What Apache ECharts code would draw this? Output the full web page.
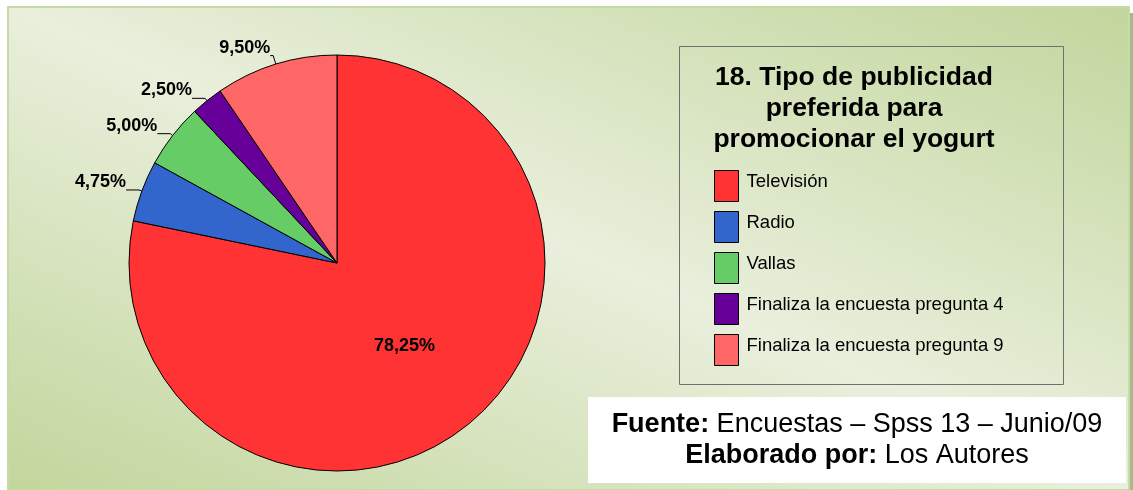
<!DOCTYPE html>
<html>
<head>
<meta charset="utf-8" />
<script type="text/javascript" src="https://cdn.jsdelivr.net/npm/echarts@6/dist/echarts.min.js"></script>
<title>Tipo de publicidad</title>
<style>
html, body { margin: 0; padding: 0; background: #fff; }
#main { width: 1133px; height: 490px; }
</style>
</head>
<body>
<div id="main"></div>
<script type="text/javascript">
var categorias = ['Televisión', 'Radio', 'Vallas', 'Finaliza la encuesta pregunta 4', 'Finaliza la encuesta pregunta 9'];
var porcentajes = [78.25, 4.75, 5.00, 2.50, 9.50];
var colores = ['#ff3333', '#3366cc', '#66cc66', '#660099', '#ff6666'];

var myChart = echarts.init(document.getElementById('main'));
var fuente = 'Liberation Sans, Arial, sans-serif';

// marco con degradado (verde en esquinas inferior-izq y superior-der)
var fx = 8, fy = 7, fw = 1121, fh = 483;
var L = Math.sqrt(fw * fw + fh * fh);
var ux = fh / L, uy = -fw / L, d = fw * fh / L;
var cx = fx + fw / 2, cy = fy + fh / 2;
var fondo = new echarts.graphic.LinearGradient(cx - d * ux, cy - d * uy, cx + d * ux, cy + d * uy, [
    {offset: 0, color: '#c2d69c'},
    {offset: 0.5, color: '#e9efdc'},
    {offset: 1, color: '#c2d69c'}
], true);

function pct(v) { return v.toFixed(2).replace('.', ',') + '%'; }

var datos = categorias.map(function (c, i) {
    var item = {name: c, value: porcentajes[i], itemStyle: {color: colores[i]}};
    if (i === 0) {
        item.label = {position: 'inside', formatter: function (p) { return pct(p.value); }};
        item.labelLine = {show: false};
    }
    if (i === 4) {
        item.labelLine = {length: 9, length2: 3};
    }
    return item;
});

var option = {
    animation: false,
    title: {
        text: '18. Tipo de publicidad\npreferida para\npromocionar el yogurt',
        left: 854,
        top: 62,
        padding: 0,
        textAlign: 'center',
        textStyle: {fontFamily: fuente, fontSize: 26.5, fontWeight: 'bold', color: '#000', lineHeight: 31}
    },
    legend: {
        orient: 'vertical',
        left: 714,
        top: 170,
        padding: 0,
        itemWidth: 24,
        itemHeight: 31,
        itemGap: 4.5,
        icon: 'rect',
        itemStyle: {borderColor: '#000', borderWidth: 1},
        formatter: function (n) { return '{t|' + n + '}\n{s|}'; },
        textStyle: {
            fontFamily: fuente, fontSize: 18.5, color: '#000',
            rich: {
                t: {fontFamily: fuente, fontSize: 18.5, color: '#000', padding: [0, 0, 0, 3], height: 22},
                s: {height: 9}
            }
        },
        data: categorias
    },
    graphic: [
        {type: 'rect', z: -10, shape: {x: fx + 5, y: fy + 6, width: fw, height: fh}, style: {fill: '#a8b78e'}},
        {type: 'rect', z: -9, shape: {x: fx, y: fy, width: fw, height: fh}, style: {fill: fondo, stroke: '#c6daa6', lineWidth: 2}},
        {type: 'rect', z: -8, shape: {x: 679.5, y: 46.5, width: 384, height: 338}, style: {fill: 'none', stroke: '#6f6f6f', lineWidth: 1}},
        {type: 'rect', z: -8, shape: {x: 588, y: 397, width: 538, height: 86}, style: {fill: '#fff'}},
        {
            type: 'text', z: -7, x: 857, y: 440,
            style: {
                text: '{b|Fuente:} Encuestas – Spss 13 – Junio/09\n{b|Elaborado por:} Los Autores',
                align: 'center', verticalAlign: 'middle',
                fontFamily: fuente, fontSize: 27, lineHeight: 31, fill: '#000',
                rich: {b: {fontFamily: fuente, fontSize: 27, fontWeight: 'bold', lineHeight: 31}}
            }
        }
    ],
    series: [{
        type: 'pie',
        center: [337, 263],
        radius: 208,
        startAngle: 90,
        clockwise: true,
        avoidLabelOverlap: false,
        itemStyle: {borderColor: '#000', borderWidth: 1},
        emphasis: {disabled: true},
        label: {
            show: true,
            position: 'outside',
            formatter: function (p) { return '{v|' + pct(p.value) + '}\n{s|}'; },
            fontFamily: fuente, fontSize: 18, fontWeight: 'bold', color: '#000',
            distanceToLabelLine: 0,
            rich: {
                v: {fontFamily: fuente, fontSize: 18, fontWeight: 'bold', color: '#000', height: 18},
                s: {height: 16}
            }
        },
        labelLine: {show: true, length: 3, length2: 13, lineStyle: {color: '#000', width: 1}},
        labelLayout: {hideOverlap: false},
        data: datos
    }]
};
myChart.setOption(option);
</script>
</body>
</html>
